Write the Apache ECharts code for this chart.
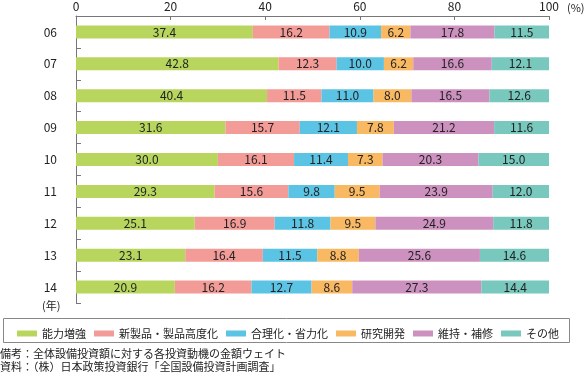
<!DOCTYPE html>
<html>
<head>
<meta charset="utf-8">
<script src="https://cdn.jsdelivr.net/npm/echarts@6/dist/echarts.min.js"></script>
<style>
html, body { margin: 0; padding: 0; background: #fff; }
#main { width: 585px; height: 376px; }
</style>
</head>
<body>
<div id="main"></div>
<script>
let years = ['06', '07', '08', '09', '10', '11', '12', '13', '14'];
let seriesNames = ['能力増強', '新製品・製品高度化', '合理化・省力化', '研究開発', '維持・補修', 'その他'];
let capacity = [37.4, 42.8, 40.4, 31.6, 30.0, 29.3, 25.1, 23.1, 20.9];
let newProducts = [16.2, 12.3, 11.5, 15.7, 16.1, 15.6, 16.9, 16.4, 16.2];
let rationalize = [10.9, 10.0, 11.0, 12.1, 11.4, 9.8, 11.8, 11.5, 12.7];
let research = [6.2, 6.2, 8.0, 7.8, 7.3, 9.5, 9.5, 8.8, 8.6];
let maintenance = [17.8, 16.6, 16.5, 21.2, 20.3, 23.9, 24.9, 25.6, 27.3];
let others = [11.5, 12.1, 12.6, 11.6, 15.0, 12.0, 11.8, 14.6, 14.4];
let colors = ['#b8d65e', '#f39b97', '#5bc3e3', '#f9b862', '#cd91c0', '#78c8bd'];

let font = '"Noto Sans CJK JP", "Noto Sans", sans-serif';
let allData = [capacity, newProducts, rationalize, research, maintenance, others];

let series = [];
for (let i = 0; i < seriesNames.length; i++) {
    series.push({
        name: seriesNames[i],
        type: 'bar',
        stack: 'total',
        barWidth: 13,
        itemStyle: { color: colors[i] },
        label: {
            show: true,
            position: 'inside',
            color: '#222',
            fontSize: 12,
            fontFamily: font,
            formatter: p => p.value.toFixed(1)
        },
        data: allData[i]
    });
}

let option = {
    animation: false,
    textStyle: { fontFamily: font },
    grid: { left: 76, right: 36, top: 14, bottom: 73 },
    legend: {
        left: 12,
        top: 323,
        itemWidth: 20,
        itemHeight: 6,
        itemGap: 8,
        icon: 'rect',
        textStyle: { fontSize: 11, color: '#222', fontFamily: font },
        data: seriesNames
    },
    xAxis: {
        type: 'value',
        position: 'top',
        min: 0,
        max: 100,
        interval: 20,
        splitLine: { show: false },
        axisLine: { show: true, lineStyle: { color: '#777' } },
        axisTick: { show: true, inside: true, length: 4, lineStyle: { color: '#777' } },
        axisLabel: { color: '#222', fontSize: 12, margin: 4 }
    },
    yAxis: {
        type: 'category',
        inverse: true,
        data: years,
        axisLine: { show: true, lineStyle: { color: '#777' } },
        axisTick: { show: true, inside: true, length: 5, lineStyle: { color: '#777' } },
        axisLabel: { color: '#222', fontSize: 12, margin: 19 }
    },
    graphic: [
        { type: 'text', left: 567, top: 2, style: { text: '(%)', fontSize: 11, fill: '#222', fontFamily: font } },
        { type: 'text', left: 42, top: 300, style: { text: '(年)', fontSize: 11, fill: '#222', fontFamily: font } },
        { type: 'rect', shape: { x: 3.5, y: 318.5, width: 566, height: 24 }, style: { fill: 'none', stroke: '#888', lineWidth: 1 } },
        { type: 'text', left: 0, top: 348, style: { text: '備考：全体設備投資額に対する各投資動機の金額ウェイト', fontSize: 11, fill: '#222', fontFamily: font } },
        { type: 'text', left: 0, top: 361, style: { text: '資料：（株）日本政策投資銀行「全国設備投資計画調査」', fontSize: 11, fill: '#222', fontFamily: font } }
    ],
    series: series
};

let chart = echarts.init(document.getElementById('main'));
chart.setOption(option);
</script>
</body>
</html>
